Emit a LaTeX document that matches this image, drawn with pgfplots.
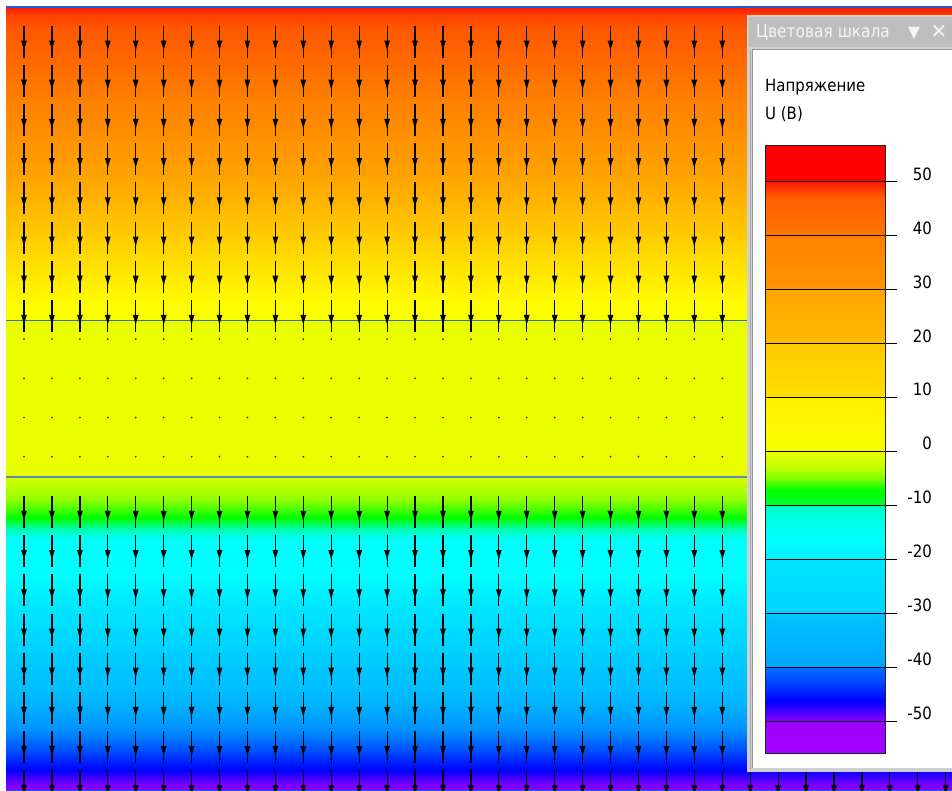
\documentclass[border=0pt]{standalone}
\usepackage{pgfplots}
\pgfplotsset{compat=1.18}
\usepackage{pgfplotstable}
\usepackage{fontspec}
\setmainfont{DejaVu Sans}[FakeStretch=0.88]
\newfontfamily\symfont{DejaVu Sans}
\usetikzlibrary{arrows.meta}

% banded colour scale of the legend (position = value + 60)
\pgfplotsset{colormap={elcut}{
 rgb255(4.1pt)=(160,0,255)
 rgb255(9.95pt)=(160,0,255)
 rgb255(10pt)=(144,0,255)
 rgb255(11.5pt)=(80,0,255)
 rgb255(13.7pt)=(0,0,255)
 rgb255(17pt)=(0,64,255)
 rgb255(19.95pt)=(0,112,255)
 rgb255(20pt)=(0,164,255)
 rgb255(29.95pt)=(0,196,255)
 rgb255(30pt)=(0,212,255)
 rgb255(39.95pt)=(0,228,255)
 rgb255(40pt)=(0,240,255)
 rgb255(44pt)=(0,255,255)
 rgb255(48pt)=(0,255,224)
 rgb255(49.95pt)=(0,255,192)
 rgb255(50pt)=(0,255,48)
 rgb255(52.8pt)=(0,255,0)
 rgb255(55pt)=(128,255,0)
 rgb255(57pt)=(192,255,0)
 rgb255(59.95pt)=(236,255,0)
 rgb255(60pt)=(244,255,0)
 rgb255(65pt)=(255,248,0)
 rgb255(69.95pt)=(255,238,0)
 rgb255(70pt)=(255,224,0)
 rgb255(79.95pt)=(255,200,0)
 rgb255(80pt)=(255,187,0)
 rgb255(89.95pt)=(255,165,0)
 rgb255(90pt)=(255,150,0)
 rgb255(99.95pt)=(255,128,0)
 rgb255(100pt)=(255,116,0)
 rgb255(107pt)=(255,96,0)
 rgb255(109pt)=(255,48,0)
 rgb255(110pt)=(255,24,0)
 rgb255(110.05pt)=(255,0,0)
 rgb255(116.8pt)=(255,0,0)
}}

% smooth colour map used for the field (position = value + 60)
\pgfplotsset{colormap={elfield}{
 rgb255(9.5pt)=(144,0,255)
 rgb255(10.4pt)=(128,0,255)
 rgb255(12.8pt)=(0,0,255)
 rgb255(16pt)=(0,80,255)
 rgb255(19.1pt)=(0,144,255)
 rgb255(23.9pt)=(0,184,255)
 rgb255(31.8pt)=(0,208,255)
 rgb255(39.7pt)=(0,234,255)
 rgb255(43.7pt)=(0,255,255)
 rgb255(49.2pt)=(0,255,255)
 rgb255(50.8pt)=(0,255,192)
 rgb255(52.7pt)=(0,255,0)
 rgb255(55.6pt)=(144,255,0)
 rgb255(59.2pt)=(216,255,0)
 rgb255(59.7pt)=(233,255,0)
 rgb255(60pt)=(244,255,0)
 rgb255(60.3pt)=(248,255,0)
 rgb255(63.2pt)=(255,250,0)
 rgb255(68.85pt)=(255,224,0)
 rgb255(76.1pt)=(255,192,0)
 rgb255(84.1pt)=(255,160,0)
 rgb255(95.4pt)=(255,128,0)
 rgb255(101.8pt)=(255,104,0)
 rgb255(106.6pt)=(255,90,0)
 rgb255(109.1pt)=(255,64,0)
 rgb255(110.5pt)=(255,16,0)
}}

% potential field (pixel coordinates, value in V)
\pgfplotstableread{
x y v
6 6 50.5
952 6 50.5
6 320 0
952 320 0
6 320.01 -0.3
952 320.01 -0.3
6 477 -0.3
952 477 -0.3
6 477.01 -0.8
952 477.01 -0.8
6 791 -50.5
952 791 -50.5
}\fieldtable

\pgfplotstableread{
x y v
0 -55.9 -55.9
1 -55.9 -55.9
0 56.8 56.8
1 56.8 56.8
}\bartable

% arrow columns
\pgfplotstableread{
x d
24 0
51.9 0
79.9 0
107.8 0
135.7 0
163.7 0
191.6 0
219.5 0
247.4 0
275.4 0
303.3 0
331.2 0
359.2 0
387.1 0
415 0
443 0
470.9 0
498.8 0
526.7 0
554.7 0
582.6 0
610.5 0
638.5 0
666.4 0
694.3 0
722.3 0
750.2 0
778.1 0
806 0
834 0
861.9 0
889.8 0
917.8 0
945.7 0
}\xcols

\definecolor{bline}{RGB}{30,90,225}
\definecolor{bline2}{RGB}{50,110,205}
\definecolor{bline3}{RGB}{90,140,170}
\definecolor{panelgray}{RGB}{208,208,208}
\definecolor{titlegray}{RGB}{190,190,190}
\definecolor{edgegray}{RGB}{150,150,150}
\definecolor{edgegray2}{RGB}{170,170,170}
\definecolor{titletext}{RGB}{245,245,245}

\begin{document}
\begin{tikzpicture}
\useasboundingbox (0,0) rectangle (952pt,-791pt);
\fill[white] (0,0) rectangle (952pt,-791pt);
\begin{axis}[at={(6pt,-6pt)}, anchor=north west, scale only axis,
  width=946pt, height=785pt, xmin=6, xmax=952, ymin=6, ymax=791,
  y dir=reverse, hide axis, colormap name=elfield,
  point meta min=-50.5, point meta max=50.5]
\addplot[surf, shader=interp, mesh/rows=6, mesh/cols=2, point meta=\thisrow{v}] table[x=x,y=y] {\fieldtable};
\addplot[bline2, line width=1pt] coordinates {(6,320) (952,320)};
\addplot[bline3, line width=1.2pt] coordinates {(6,477) (952,477)};
\addplot[bline, line width=2pt] coordinates {(6,7) (952,7)};
\addplot[bline, line width=1pt] coordinates {(6,790.5) (952,790.5)};
\pgfplotsinvokeforeach{25.5,64.7,103.9,143.1,182.3,221.5,260.7,299.9,495.9,535.1,574.3,613.5,652.7,691.9,731.1,770.3}{
  \addplot[black, line width=1.2pt, quiver={u=0,v=32}] table[x=x, y expr=#1] {\xcols};
  \addplot[black, line width=1.2pt, quiver={u=0,v=26}, -{Latex[length=11pt,width=6pt]}] table[x=x, y expr=#1] {\xcols};
}
\pgfplotsinvokeforeach{339.1,378.3,417.5,456.7}{
  \addplot[black!75, only marks, mark=*, mark size=0.7pt] table[x=x, y expr=#1] {\xcols};
}
\end{axis}
% colour-scale panel
\fill[panelgray] (747pt,-15pt) rectangle (952pt,-772pt);
\fill[titlegray] (749pt,-17pt) rectangle (952pt,-47pt);
\fill[white] (753pt,-50pt) rectangle (952pt,-768pt);
\draw[line width=1pt, edgegray] (752.5pt,-768pt) -- (752.5pt,-49.5pt) -- (952pt,-49.5pt);
\draw[line width=1pt, edgegray2] (750pt,-50pt) -- (750pt,-770pt);
\node[anchor=west, inner sep=0pt, text=titletext, font=\fontsize{17.5}{17.5}\selectfont] at (756pt,-32pt) {Цветовая шкала};
\node[inner sep=0pt, text=titletext, font=\symfont\fontsize{16}{16}\selectfont] at (914pt,-33pt) {▼};
\node[inner sep=0pt, text=titletext, font=\symfont\fontsize{20}{20}\selectfont] at (939pt,-32pt) {✕};
\node[anchor=base west, inner sep=0pt, font=\fontsize{17}{17}\selectfont] at (765pt,-91.5pt) {Напряжение};
\node[anchor=base west, inner sep=0pt, font=\fontsize{17}{17}\selectfont] at (765pt,-120pt) {U (В)};
\begin{axis}[at={(765pt,-145pt)}, anchor=north west, scale only axis,
  width=120pt, height=608pt, xmin=0, xmax=1, ymin=-55.9, ymax=56.8,
  xtick=\empty, ytick={-50,-40,...,50},
  yticklabels={-50,-40,-30,-20,-10,0,10,20,30,40,50},
  ytick pos=right, yticklabel pos=right, tick align=outside,
  major tick length=12pt, ymajorgrids,
  grid style={black, line width=0.9pt},
  axis line style={black!85, line width=0.9pt},
  every tick/.style={black, line width=0.9pt},
  axis on top,
  yticklabel style={anchor=east, inner sep=0pt, xshift=35pt, yshift=7.7pt, font=\fontsize{17}{17}\selectfont},
  colormap name=elcut, point meta min=-55.9, point meta max=56.8]
\addplot[surf, shader=interp, mesh/rows=2, mesh/cols=2, point meta=\thisrow{v}] table[x=x,y=y] {\bartable};
\end{axis}
\end{tikzpicture}
\end{document}
